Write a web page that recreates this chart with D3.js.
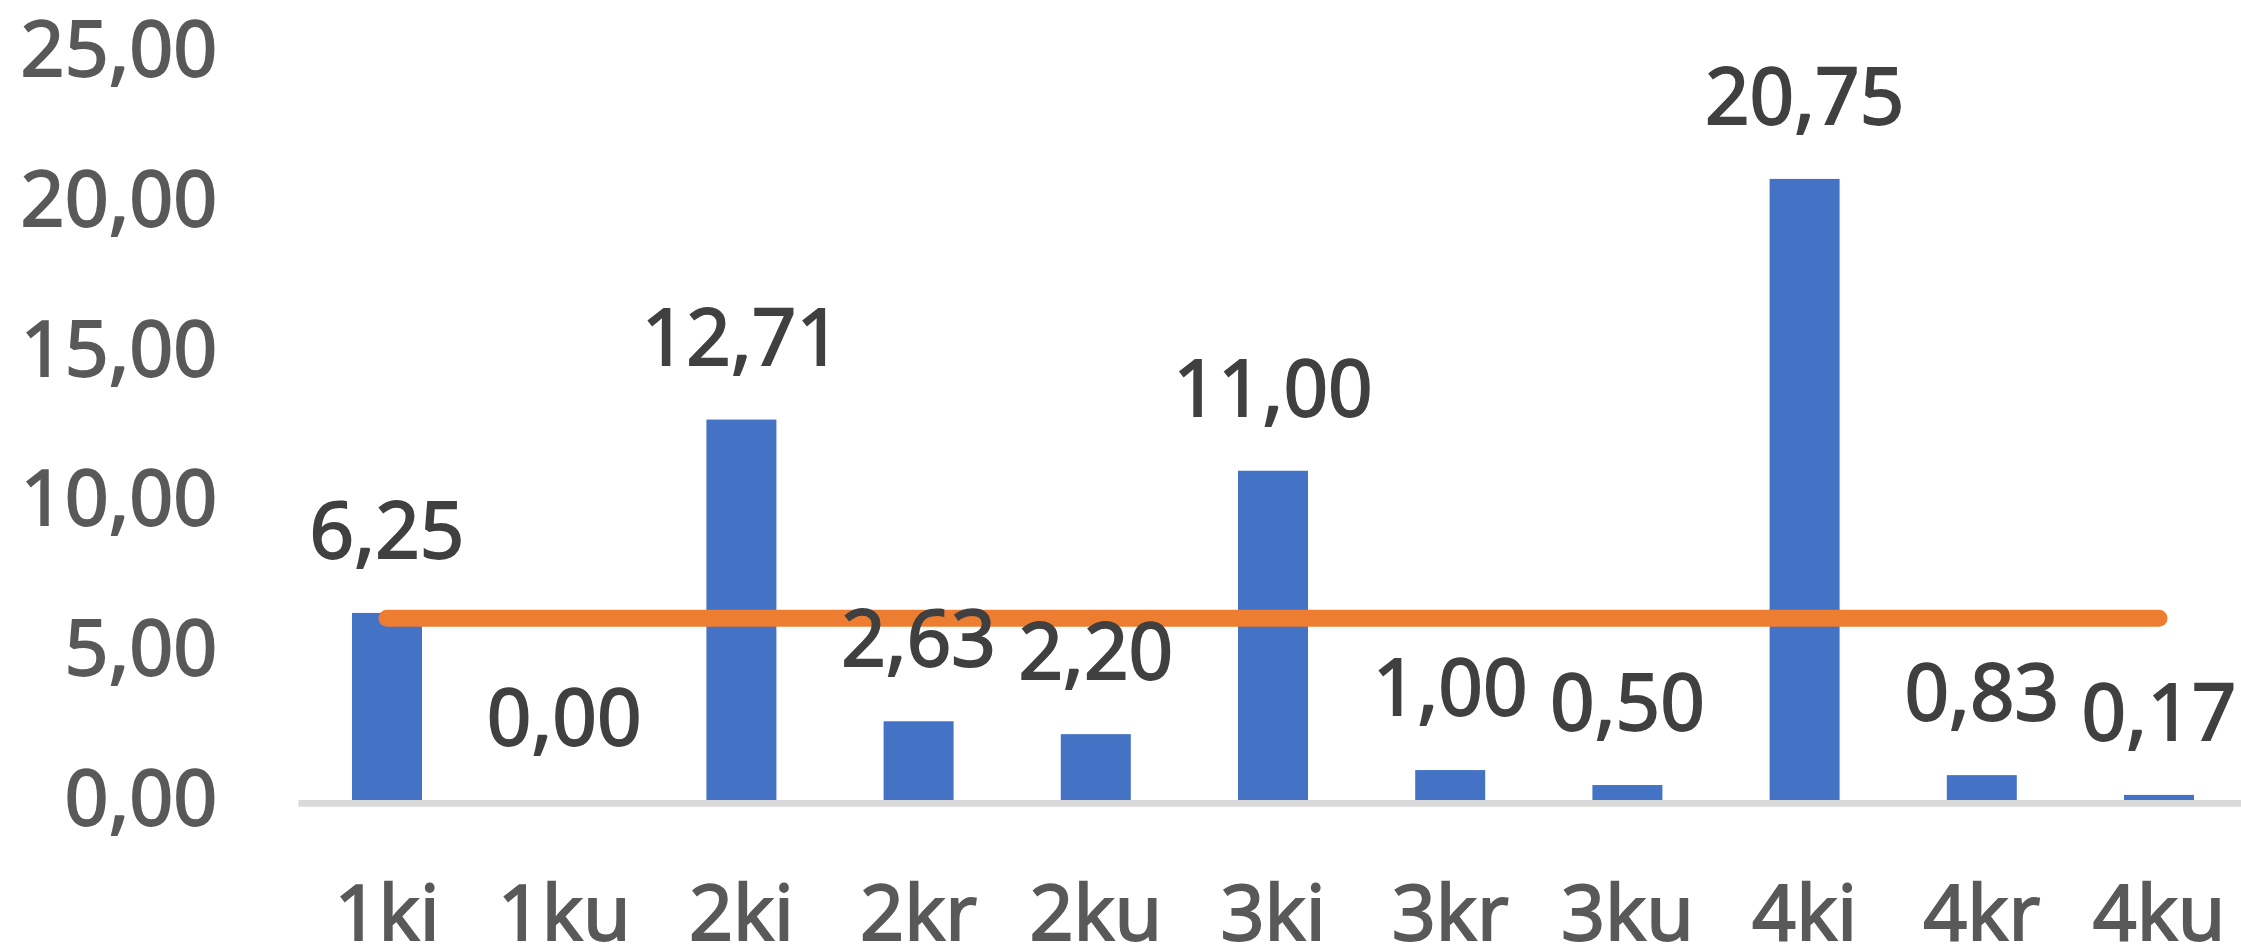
<!DOCTYPE html>
<html>
<head>
<meta charset="utf-8">
<script src="https://cdn.jsdelivr.net/npm/d3@7"></script>
<style>
  html, body { margin: 0; padding: 0; background: #ffffff; overflow: hidden; }
  svg { display: block; }
  text { font-family: "Noto Sans", "Open Sans", sans-serif; }
</style>
</head>
<body>
<svg id="chart" width="2241" height="947"></svg>
<script>
// ---- data ----
const categories = ["1ki", "1ku", "2ki", "2kr", "2ku", "3ki", "3kr", "3ku", "4ki", "4kr", "4ku"];
const values = [6.25, 0.00, 12.71, 2.63, 2.20, 11.00, 1.00, 0.50, 20.75, 0.83, 0.17];
const lineValues = [6.07, 6.07, 6.07, 6.07, 6.07, 6.07, 6.07, 6.07, 6.07, 6.07, 6.07];
const yTicks = [0, 5, 10, 15, 20, 25];

// ---- layout ----
const svg = d3.select("#chart");

const locale = d3.formatLocale({ decimal: ",", thousands: ".", grouping: [3], currency: ["", ""] });
const fmt = locale.format(".2f");

const x = d3.scaleBand()
  .domain(categories)
  .range([298.4, 2247.6])
  .paddingInner(0.605)
  .paddingOuter(0.3025);

const y = d3.scaleLinear().domain([0, 25]).range([800, 51.7]);

// y axis labels (no line, no gridlines)
const yAxis = d3.axisLeft(y)
  .tickValues(yTicks)
  .tickSize(0)
  .tickPadding(81)
  .tickFormat(fmt);

const gy = svg.append("g")
  .attr("transform", `translate(${x.range()[0]},0)`)
  .call(yAxis);
gy.select(".domain").remove();
gy.selectAll("text")
  .attr("dy", null)
  .attr("y", 24)
  .attr("fill", "#595959")
  .attr("stroke", "#595959")
  .attr("stroke-width", 1.8)
  .style("font-size", "77px")
  .style("font-family", "'Noto Sans', 'Open Sans', sans-serif");

// bars
svg.append("g").selectAll("rect")
  .data(values)
  .join("rect")
  .attr("x", (d, i) => x(categories[i]))
  .attr("width", x.bandwidth())
  .attr("y", d => y(d))
  .attr("height", d => y(0) - y(d))
  .attr("fill", "#4472C4");

// category axis line
svg.append("rect")
  .attr("x", x.range()[0])
  .attr("width", x.range()[1] - x.range()[0])
  .attr("y", y(0))
  .attr("height", 6.7)
  .attr("fill", "#D9D9D9");

// x axis labels
const xAxis = d3.axisBottom(x).tickSize(0).tickPadding(0);
const gx = svg.append("g")
  .attr("transform", `translate(0,${y(0)})`)
  .call(xAxis);
gx.select(".domain").remove();
gx.selectAll("text")
  .attr("dy", null)
  .attr("y", 140)
  .attr("fill", "#595959")
  .attr("stroke", "#595959")
  .attr("stroke-width", 1.8)
  .style("font-size", "77px")
  .style("font-family", "'Noto Sans', 'Open Sans', sans-serif");

// orange line
const line = d3.line()
  .x((d, i) => x(categories[i]) + x.bandwidth() / 2)
  .y(d => y(d));

svg.append("path")
  .datum(lineValues)
  .attr("d", line)
  .attr("fill", "none")
  .attr("stroke", "#ED7D31")
  .attr("stroke-width", 17)
  .attr("stroke-linecap", "round");

// data labels
svg.append("g").selectAll("text")
  .data(values)
  .join("text")
  .attr("x", (d, i) => x(categories[i]) + x.bandwidth() / 2)
  .attr("y", d => y(d) - 55)
  .attr("text-anchor", "middle")
  .attr("fill", "#404040")
  .attr("stroke", "#404040")
  .attr("stroke-width", 1.8)
  .style("font-size", "78px")
  .text(d => fmt(d));
</script>
</body>
</html>
